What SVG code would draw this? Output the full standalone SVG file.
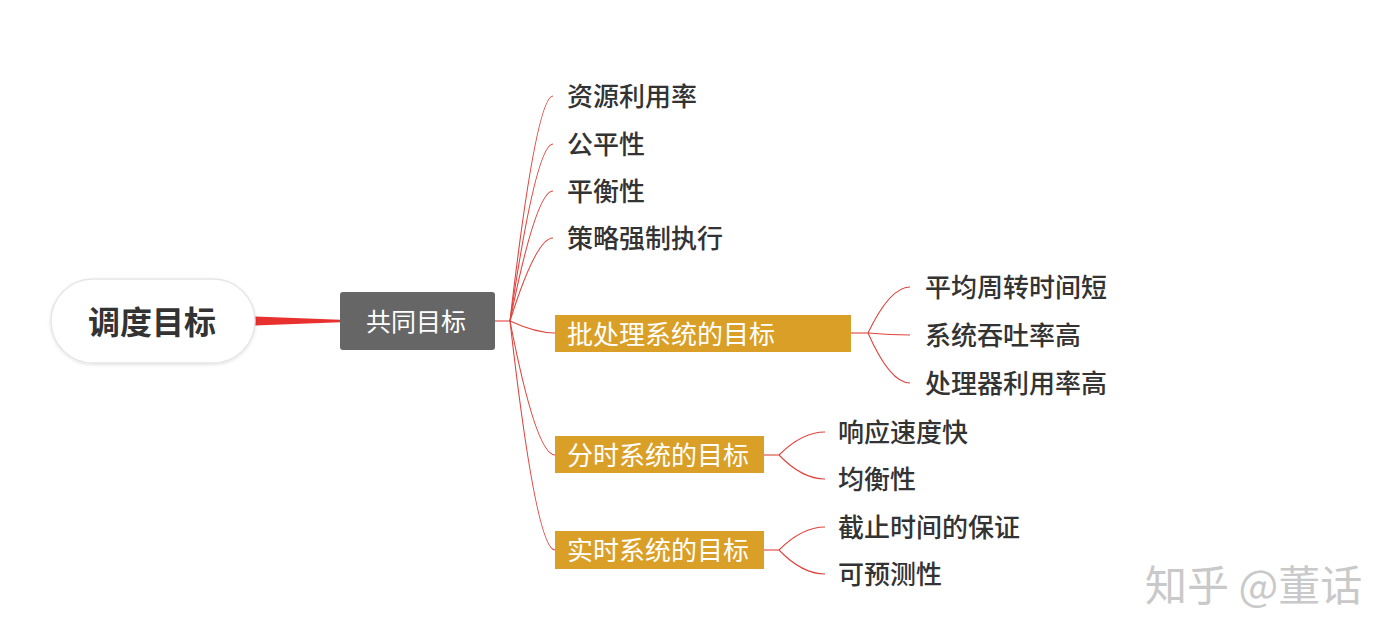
<svg xmlns="http://www.w3.org/2000/svg" width="1399" height="640" viewBox="0 0 1399 640">
<defs>
<style>
text{font-family:"Noto Sans CJK SC","Noto Sans",sans-serif;dominant-baseline:central}
.leaf{font-size:26px;font-weight:500;fill:#333333}
.box{fill:#DA9F27}
.boxt{font-size:26px;fill:#ffffff}
.c{fill:none;stroke:#E0443E;stroke-width:1.1}
</style>
<filter id="sh" x="-10%" y="-10%" width="120%" height="130%">
<feDropShadow dx="0" dy="1" stdDeviation="1.5" flood-color="#000" flood-opacity="0.12"/>
</filter>
</defs>
<rect width="1399" height="640" fill="#ffffff"/>
<g id="connectors">
<polygon points="255,316.5 255,325.5 340,322.2 340,319.8" fill="#E8302F"/>
<path class="c" d="M495,321 L510,321"/>
<path class="c" d="M510,321 Q536,96 553,96"/>
<path class="c" d="M510,321 Q536,144 553,144"/>
<path class="c" d="M510,321 Q536,191 553,191"/>
<path class="c" d="M510,321 Q536,238 553,238"/>
<path class="c" d="M510,321 Q536,333 555,333"/>
<path class="c" d="M510,321 Q536,455 555,455"/>
<path class="c" d="M510,321 Q536,550 555,550"/>
<path class="c" d="M851,333 L868,333"/>
<path class="c" d="M868,333 Q890,287 910,287"/>
<path class="c" d="M868,333 Q890,335 910,335"/>
<path class="c" d="M868,333 Q890,383 910,383"/>
<path class="c" d="M764,455 L779,455"/>
<path class="c" d="M779,455 Q802,432 825,432"/>
<path class="c" d="M779,455 Q802,479 825,479"/>
<path class="c" d="M764,550 L779,550"/>
<path class="c" d="M779,550 Q802,527 825,527"/>
<path class="c" d="M779,550 Q802,574 825,574"/>
</g>
<g id="root">
<rect x="51" y="279" width="204" height="84" rx="42" fill="#ffffff" stroke="#e6e6e6" stroke-width="1.5" filter="url(#sh)"/>
<text x="152" y="320" font-size="32" font-weight="bold" fill="#333333" text-anchor="middle">调度目标</text>
</g>
<g id="common">
<rect x="340" y="292" width="155" height="58" rx="3" fill="#666666"/>
<text x="416" y="320" font-size="25" fill="#ffffff" text-anchor="middle">共同目标</text>
</g>
<g id="n1"><text class="leaf" x="567" y="94">资源利用率</text></g>
<g id="n2"><text class="leaf" x="567" y="142">公平性</text></g>
<g id="n3"><text class="leaf" x="567" y="189">平衡性</text></g>
<g id="n4"><text class="leaf" x="567" y="236">策略强制执行</text></g>
<g id="batch">
<rect class="box" x="555" y="315" width="296" height="37"/>
<text class="boxt" x="567" y="332">批处理系统的目标</text>
</g>
<g id="b1"><text class="leaf" x="925" y="285">平均周转时间短</text></g>
<g id="b2"><text class="leaf" x="925" y="333">系统吞吐率高</text></g>
<g id="b3"><text class="leaf" x="925" y="381">处理器利用率高</text></g>
<g id="ts">
<rect class="box" x="555" y="436" width="209" height="37"/>
<text class="boxt" x="567" y="453">分时系统的目标</text>
</g>
<g id="t1"><text class="leaf" x="838" y="430">响应速度快</text></g>
<g id="t2"><text class="leaf" x="838" y="477">均衡性</text></g>
<g id="rt">
<rect class="box" x="555" y="531" width="209" height="38"/>
<text class="boxt" x="567" y="548">实时系统的目标</text>
</g>
<g id="r1"><text class="leaf" x="838" y="525">截止时间的保证</text></g>
<g id="r2"><text class="leaf" x="838" y="572">可预测性</text></g>
<g id="watermark">
<text x="1145" y="582" font-size="42" fill="#c9c9c9">知乎 @董话</text>
</g>
</svg>
